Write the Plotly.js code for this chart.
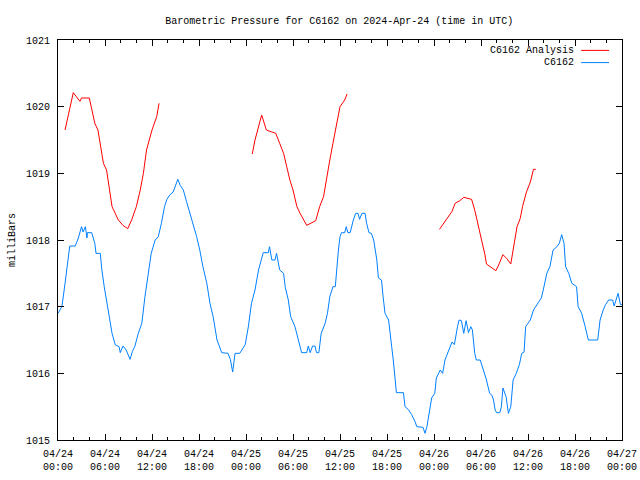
<!DOCTYPE html>
<html>
<head>
<meta charset="utf-8">
<script src="https://cdn.plot.ly/plotly-3.0.1.min.js"></script>
<style>html,body{margin:0;padding:0;background:#fff;}#chart{width:640px;height:480px;}</style>
</head>
<body>
<div id="chart"></div>
<script>
// Hours since 2024-04-24 00:00 UTC
const obsHours = [
  0, 0.5, 0.9, 1.3, 1.5, 2.2, 2.6, 3.0, 3.2, 3.5,
  3.7, 3.75, 4.3, 4.7, 4.85, 5.4, 5.6, 5.9, 6.2, 6.6,
  6.9, 7.3, 7.8, 7.95, 8.3, 8.7, 9.2, 9.5, 9.8, 10.25,
  10.7, 11.1, 11.5, 11.9, 12.4, 12.8, 13.2, 13.6, 13.9, 14.3,
  14.7, 15.0, 15.3, 15.6, 16.0, 16.4, 16.85, 17.3, 17.7, 18.1,
  18.5, 19.0, 19.4, 19.8, 20.3, 20.9, 21.7, 22.0, 22.3, 22.6,
  23.2, 23.9, 24.3, 24.7, 25.15, 25.6, 26.0, 26.2, 26.85, 27.0,
  27.3, 27.7, 27.9, 28.3, 28.8, 29.0, 29.4, 29.7, 30.25, 30.55,
  30.8, 31.1, 31.75, 31.95, 32.2, 32.5, 32.8, 33.0, 33.3, 33.6,
  34.1, 34.4, 34.7, 35.1, 35.4, 35.6, 35.8, 36.0, 36.2, 36.6,
  36.8, 37.0, 37.3, 37.7, 38.0, 38.3, 38.5, 38.8, 39.2, 39.4,
  39.7, 40.0, 40.3, 40.5, 40.7, 40.9, 41.3, 41.5, 41.75, 42.2,
  42.4, 42.6, 42.8, 43.0, 43.2, 44.1, 44.3, 44.7, 45.15, 45.6,
  45.8, 46.6, 46.85, 47.1, 47.4, 47.7, 48.1, 48.3, 48.8, 49.1,
  49.4, 49.8, 50.3, 50.6, 50.8, 51.0, 51.2, 51.5, 51.8, 52.1,
  52.4, 52.7, 52.9, 53.2, 53.4, 53.9, 54.3, 54.7, 55.1, 55.4,
  55.6, 55.8, 56.0, 56.4, 56.6, 56.8, 57.2, 57.5, 57.8, 58.1,
  58.5, 58.9, 59.2, 59.5, 59.7, 60.0, 60.3, 60.7, 61.1, 61.4,
  61.7, 61.95, 62.4, 62.8, 63.2, 63.7, 64.0, 64.3, 64.6, 64.8,
  65.2, 65.6, 66.2, 66.4, 66.85, 67.3, 67.5, 67.7, 68.9, 69.0,
  69.2, 69.6, 69.9, 70.3, 70.8, 71.0, 71.2, 71.5, 71.8, 72.0
];
const obsPressure = [
  1016.9, 1017.0, 1017.35, 1017.7, 1017.91, 1017.91, 1018.03, 1018.2, 1018.12, 1018.2,
  1018.03, 1018.11, 1018.11, 1017.95, 1017.8, 1017.8, 1017.55, 1017.3, 1017.1, 1016.85,
  1016.6, 1016.43, 1016.4, 1016.31, 1016.41, 1016.35, 1016.21, 1016.33, 1016.4, 1016.6,
  1016.75, 1017.15, 1017.45, 1017.8, 1018.0, 1018.05, 1018.25, 1018.5, 1018.61, 1018.68,
  1018.72, 1018.82, 1018.91, 1018.82, 1018.75, 1018.58, 1018.4, 1018.22, 1018.05, 1017.85,
  1017.6, 1017.35, 1017.05, 1016.85, 1016.5, 1016.31, 1016.3, 1016.21, 1016.02, 1016.3,
  1016.3, 1016.43, 1016.7, 1017.05, 1017.25, 1017.55, 1017.75, 1017.81, 1017.81, 1017.9,
  1017.7, 1017.7, 1017.8, 1017.55, 1017.5, 1017.3, 1017.1, 1016.85, 1016.7, 1016.55,
  1016.45, 1016.31, 1016.31, 1016.41, 1016.31, 1016.41, 1016.41, 1016.31, 1016.31, 1016.6,
  1016.75, 1016.9, 1017.15, 1017.3, 1017.3, 1017.6, 1017.85, 1018.05, 1018.11, 1018.11,
  1018.2, 1018.11, 1018.11, 1018.3, 1018.4, 1018.4, 1018.31, 1018.4, 1018.4, 1018.25,
  1018.11, 1018.1, 1018.0, 1017.85, 1017.7, 1017.43, 1017.4, 1017.15, 1016.9, 1016.8,
  1016.55, 1016.4, 1016.2, 1015.95, 1015.71, 1015.71, 1015.5, 1015.46, 1015.38, 1015.27,
  1015.2, 1015.19, 1015.1, 1015.2, 1015.4, 1015.63, 1015.7, 1015.93, 1016.05, 1016.0,
  1016.2, 1016.32, 1016.47, 1016.43, 1016.58, 1016.7, 1016.8, 1016.79, 1016.6, 1016.79,
  1016.61, 1016.7, 1016.65, 1016.3, 1016.2, 1016.2, 1016.05, 1015.9, 1015.7, 1015.67,
  1015.6, 1015.45, 1015.41, 1015.41, 1015.5, 1015.78, 1015.65, 1015.4, 1015.5, 1015.9,
  1016.0, 1016.13, 1016.3, 1016.32, 1016.7, 1016.75, 1016.8, 1016.95, 1017.03, 1017.09,
  1017.13, 1017.25, 1017.5, 1017.6, 1017.85, 1017.9, 1017.95, 1018.08, 1017.95, 1017.6,
  1017.5, 1017.35, 1017.3, 1017.0, 1016.9, 1016.7, 1016.6, 1016.5, 1016.5, 1016.6,
  1016.8, 1016.95, 1017.03, 1017.1, 1017.1, 1017.01, 1017.1, 1017.2, 1017.03, 1017.03
];
// Analysis series (null separates the three runs)
const anaHours = [
  0.9, 1.95, 2.8, 3.0, 4.0, 4.3, 4.7, 5.1, 5.4, 5.8,
  6.2, 6.6, 6.9, 7.7, 8.3, 8.9, 9.4, 10.0, 10.5, 10.9,
  11.3, 12.0, 12.6, 12.9, null,
  24.8, 25.15, 26.0, 26.6, 27.3, 27.8, 28.3, 28.8, 29.2, 29.6,
  30.0, 30.5, 30.9, 31.75, 32.9, 33.4, 33.9, 34.3, 34.7, 35.1,
  35.6, 36.0, 36.6, 36.9, null,
  48.7, 49.2, 49.8, 50.3, 50.7, 51.3, 51.8, 52.8, 53.2, 53.6,
  54.0, 54.5, 54.7, 55.2, 55.9, 56.2, 56.8, 57.3, 57.8, 58.1,
  58.6, 59.0, 59.3, 59.8, 60.3, 60.7, 61.0
];
const anaPressure = [
  1019.65, 1020.21, 1020.08, 1020.13, 1020.13, 1019.95, 1019.75, 1019.65, 1019.45, 1019.15,
  1019.05, 1018.75, 1018.5, 1018.3, 1018.22, 1018.17, 1018.3, 1018.5, 1018.75, 1019.0,
  1019.35, 1019.65, 1019.85, 1020.05, null,
  1019.29, 1019.5, 1019.875, 1019.65, 1019.62, 1019.6, 1019.45, 1019.3, 1019.1, 1018.9,
  1018.75, 1018.5, 1018.4, 1018.22, 1018.29, 1018.5, 1018.65, 1018.95, 1019.2, 1019.45,
  1019.75, 1020.0, 1020.1, 1020.19, null,
  1018.16, 1018.25, 1018.34, 1018.43, 1018.55, 1018.59, 1018.64, 1018.61, 1018.45, 1018.25,
  1018.05, 1017.78, 1017.64, 1017.6, 1017.54, 1017.61, 1017.78, 1017.72, 1017.64, 1017.85,
  1018.2, 1018.32, 1018.5, 1018.72, 1018.87, 1019.06, 1019.06
];
const xTickVals = [0, 6, 12, 18, 24, 30, 36, 42, 48, 54, 60, 66, 72];
const xTickText = [
  "04/24<br>00:00", "04/24<br>06:00", "04/24<br>12:00", "04/24<br>18:00",
  "04/25<br>00:00", "04/25<br>06:00", "04/25<br>12:00", "04/25<br>18:00",
  "04/26<br>00:00", "04/26<br>06:00", "04/26<br>12:00", "04/26<br>18:00",
  "04/27<br>00:00"
];
const yTickVals = [1015, 1016, 1017, 1018, 1019, 1020, 1021];
const seriesNames = ["C6162 Analysis", "C6162"];
const seriesColors = ["#ff0000", "#0080ff"];

const FONT = {family: "Liberation Mono, DejaVu Sans Mono, monospace", size: 10, color: "#000"};

const traces = [
  {x: anaHours, y: anaPressure, type: "scatter", mode: "lines", name: seriesNames[0],
   line: {color: seriesColors[0], width: 1}, connectgaps: false, showlegend: false},
  {x: obsHours, y: obsPressure, type: "scatter", mode: "lines", name: seriesNames[1],
   line: {color: seriesColors[1], width: 1}, showlegend: false}
];

// gnuplot-style legend: text right-aligned, then sample line
const annotations = [];
const shapes = [];
const legY = [0.974, 0.9435];
seriesNames.forEach((n, i) => {
  annotations.push({text: n, xref: "paper", yref: "paper", x: 0.918, y: legY[i],
    xanchor: "right", yanchor: "middle", showarrow: false, font: FONT});
  shapes.push({type: "line", xref: "paper", yref: "paper", x0: 0.9275, x1: 0.977,
    y0: legY[i], y1: legY[i], line: {color: seriesColors[i], width: 1}});
});

const layout = {
  width: 640, height: 480,
  margin: {l: 58, r: 18, t: 40, b: 40, pad: 0},
  paper_bgcolor: "#fff", plot_bgcolor: "#fff",
  font: FONT,
  title: {text: "Barometric Pressure for C6162 on 2024-Apr-24 (time in UTC)",
          font: FONT, x: 0.53, xref: "container", xanchor: "center",
          y: 1 - 20/480, yref: "container", yanchor: "middle"},
  xaxis: {range: [0, 72], tickmode: "array", tickvals: xTickVals, ticktext: xTickText,
          ticks: "inside", ticklen: 6, tickcolor: "#000", tickwidth: 1,
          minor: {tickmode: "linear", tick0: 0, dtick: 2, ticks: "inside", ticklen: 3, tickcolor: "#000", showgrid: false},
          showline: true, linecolor: "#000", linewidth: 1, mirror: "ticks",
          showgrid: false, zeroline: false, tickfont: FONT, automargin: false, ticklabelstandoff: 4},
  yaxis: {range: [1015, 1021], tickmode: "array", tickvals: yTickVals,
          ticks: "inside", ticklen: 6, tickcolor: "#000", tickwidth: 1,
          showline: true, linecolor: "#000", linewidth: 1, mirror: "ticks",
          showgrid: false, zeroline: false, tickfont: FONT, automargin: false,
          ticklabelstandoff: 5,
          title: {text: "milliBars", font: FONT, standoff: 8}},
  annotations: annotations,
  shapes: shapes,
  showlegend: false
};

Plotly.newPlot("chart", traces, layout, {staticPlot: true, displayModeBar: false});
</script>
</body>
</html>
